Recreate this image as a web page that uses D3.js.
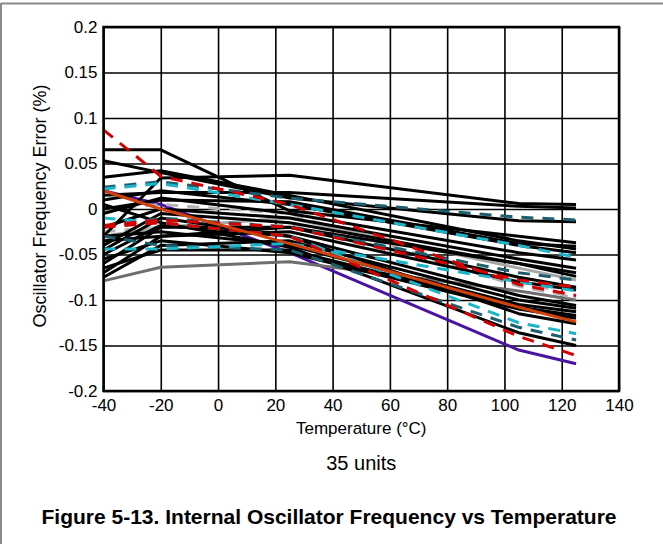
<!DOCTYPE html>
<html>
<head>
<meta charset="utf-8">
<script src="https://cdn.jsdelivr.net/npm/d3@7"></script>
<style>
  body { margin: 0; background: white; }
  text { font-family: "Liberation Sans", Arial, sans-serif; }
</style>
</head>
<body>
<div id="container"></div>
<script>
let w = 663;
let h = 544;

// measured temperatures (°C)
let temps = [-40, -20, 25, 105, 125];

// one row per unit: error (%) at each temp
let blackUnits = [
  [0.065, 0.065, -0.002, -0.030, -0.037],
  [-0.030, 0.034, 0.037, 0.006, 0.005],
  [0.015, 0.018, 0.018, 0.003, 0.001],
  [0.053, 0.040, 0.012, -0.013, -0.014],
  [0.035, 0.042, 0.015, -0.035, -0.044],
  [0.010, 0.020, 0.005, -0.040, -0.048],
  [-0.005, 0.012, -0.005, -0.048, -0.056],
  [-0.020, 0.000, -0.010, -0.055, -0.065],
  [-0.040, -0.005, -0.015, -0.060, -0.070],
  [-0.060, -0.020, -0.020, -0.075, -0.086],
  [-0.070, -0.030, -0.025, -0.080, -0.089],
  [-0.050, -0.018, -0.030, -0.095, -0.106],
  [-0.075, -0.040, -0.035, -0.100, -0.109],
  [-0.030, -0.025, -0.040, -0.105, -0.113],
  [-0.065, -0.045, -0.045, -0.108, -0.117],
  [-0.055, -0.035, -0.048, -0.110, -0.120],
  [-0.045, -0.010, -0.030, -0.115, -0.126],
  [0.005, -0.015, -0.042, -0.136, -0.150],
  [-0.035, -0.030, -0.020, -0.060, -0.074],
  [0.000, 0.010, 0.008, -0.038, -0.041]
];
let redUnits = [
  [0.087, 0.036, 0.005, -0.083, -0.095],
  [-0.018, -0.012, -0.020, -0.078, -0.086],
  [-0.020, -0.015, -0.030, -0.140, -0.161]
];
let tealUnits = [
  [0.024, 0.030, 0.012, -0.009, -0.012],
  [-0.020, -0.010, -0.020, -0.070, -0.078],
  [-0.030, -0.040, -0.045, -0.130, -0.144]
];
let cyanUnits = [
  [0.022, 0.028, 0.005, -0.040, -0.053],
  [-0.044, -0.044, -0.038, -0.080, -0.090],
  [-0.010, -0.015, -0.030, -0.125, -0.137]
];
let lightGrayDashUnits = [
  [0.000, 0.005, -0.005, -0.085, -0.097],
  [-0.025, -0.020, -0.018, -0.075, -0.100]
];
let lightGrayUnit = [-0.030, -0.020, -0.010, -0.065, -0.078];
let grayUnit = [-0.079, -0.064, -0.058, -0.090, -0.100];
let purpleUnit = [0.020, 0.005, -0.048, -0.155, -0.170];
let orangeUnit = [0.020, 0.000, -0.038, -0.108, -0.124];

let xTicks = [-40, -20, 0, 20, 40, 60, 80, 100, 120, 140];
let yTicks = [0.2, 0.15, 0.1, 0.05, 0, -0.05, -0.1, -0.15, -0.2];

let viz = d3.select("#container")
  .append("svg")
    .attr("width", w)
    .attr("height", h)
    .style("background-color", "white");

// outer frame (top + left only)
viz.append("line").attr("x1", 1).attr("y1", 3.5).attr("x2", w).attr("y2", 3.5)
  .attr("stroke", "#8a8a8a").attr("stroke-width", 2);
viz.append("line").attr("x1", 1).attr("y1", 3).attr("x2", 1).attr("y2", h)
  .attr("stroke", "#8a8a8a").attr("stroke-width", 2);

let pLeft = 103.5, pRight = 619, pTop = 27, pBottom = 391;

let xScale = d3.scaleLinear().domain([-40, 140]).range([pLeft, pRight]);
let yScale = d3.scaleLinear().domain([-0.2, 0.2]).range([pBottom, pTop]);

// grid
let xAxis = d3.axisBottom(xScale).tickValues(xTicks)
  .tickSize(-(pBottom - pTop)).tickPadding(8);
let xAxisG = viz.append("g").attr("class", "xaxis")
  .attr("transform", "translate(0," + pBottom + ")").call(xAxis);

let yAxis = d3.axisLeft(yScale).tickValues(yTicks)
  .tickSize(-(pRight - pLeft)).tickPadding(6);
let yAxisG = viz.append("g").attr("class", "yaxis")
  .attr("transform", "translate(" + pLeft + ",0)").call(yAxis);

viz.selectAll(".domain").remove();
viz.selectAll(".tick line").attr("stroke", "black").attr("stroke-width", 1.6);
viz.selectAll(".tick text").attr("font-size", 17).attr("fill", "black")
  .style("font-family", "Liberation Sans, Arial, sans-serif")
  .text(d => String(d));

// data lines
let line = d3.line()
  .x((d, i) => xScale(temps[i]))
  .y(d => yScale(d));

// draw order: purple & greys underneath, blacks, then dashed colours, orange on top
let series = [];
series.push({ v: purpleUnit, c: "#4a14a0", dash: null });
series.push({ v: grayUnit, c: "#6e6e6e", dash: null });
series.push({ v: lightGrayUnit, c: "#a6a6a6", dash: null });
lightGrayDashUnits.forEach(v => series.push({ v: v, c: "#b4b4b4", dash: "12,9" }));
blackUnits.forEach(v => series.push({ v: v, c: "#000000", dash: null }));
tealUnits.forEach(v => series.push({ v: v, c: "#1c5e6e", dash: "12,9" }));
cyanUnits.forEach(v => series.push({ v: v, c: "#1cb4c8", dash: "12,9" }));
redUnits.forEach(v => series.push({ v: v, c: "#d40000", dash: "12,9" }));
series.push({ v: orangeUnit, c: "#d0400c", dash: null });

viz.append("g").selectAll("path")
  .data(series)
  .enter()
  .append("path")
    .attr("d", d => line(d.v))
    .attr("fill", "none")
    .attr("stroke", d => d.c)
    .attr("stroke-width", 3)
    .attr("stroke-dasharray", d => d.dash)
    .attr("stroke-linejoin", "round");

// plot frame
viz.append("rect")
  .attr("x", pLeft).attr("y", pTop)
  .attr("width", pRight - pLeft).attr("height", pBottom - pTop)
  .attr("fill", "none").attr("stroke", "black").attr("stroke-width", 2.5);

// titles
viz.append("text")
  .attr("x", (pLeft + pRight) / 2).attr("y", 434)
  .attr("text-anchor", "middle").attr("font-size", 17)
  .text("Temperature (°C)");

viz.append("text")
  .attr("transform", "translate(46,206) rotate(-90)")
  .attr("text-anchor", "middle").attr("font-size", 18)
  .text("Oscillator Frequency Error (%)");

viz.append("text")
  .attr("x", (pLeft + pRight) / 2).attr("y", 470)
  .attr("text-anchor", "middle").attr("font-size", 20)
  .text("35 units");

viz.append("text")
  .attr("x", 329).attr("y", 524)
  .attr("text-anchor", "middle").attr("font-size", 21).attr("font-weight", "bold")
  .text("Figure 5-13. Internal Oscillator Frequency vs Temperature");
</script>
</body>
</html>
